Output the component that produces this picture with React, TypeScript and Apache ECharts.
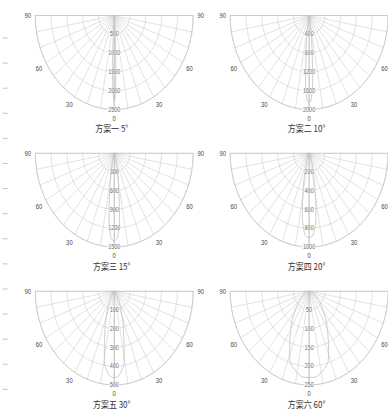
import React, { useEffect, useRef } from 'react';
import * as echarts from 'echarts';

const TITLES = ['方案一 5°', '方案二 10°', '方案三 15°', '方案四 20°', '方案五 30°', '方案六 60°'];

const RING_VALUES = [
  [500, 1000, 1500, 2000, 2500],
  [400, 800, 1200, 1600, 2000],
  [300, 600, 900, 1200, 1500],
  [200, 400, 600, 800, 1000],
  [100, 200, 300, 400, 500],
  [50, 100, 150, 200, 250],
];

const BEAM1_ANGLES = [0, 1, 2, 2.5, 3, 4, 5, 7, 10, 15, 20, 30, 45, 60, 90];
const BEAM1_VALUES = [2300, 2050, 1500, 1150, 820, 380, 170, 60, 25, 10, 5, 2, 0, 0, 0];
const BEAM2_ANGLES = [0, 2, 4, 5, 6, 8, 10, 12, 15, 20, 30, 45, 60, 90];
const BEAM2_VALUES = [1850, 1750, 1300, 925, 720, 400, 190, 100, 50, 20, 8, 3, 0, 0];
const BEAM3_ANGLES = [0, 3, 6, 7.5, 9, 12, 15, 20, 25, 30, 45, 60, 90];
const BEAM3_VALUES = [1400, 1320, 960, 700, 520, 260, 130, 50, 25, 12, 4, 0, 0];
const BEAM4_ANGLES = [0, 4, 8, 10, 12, 15, 20, 25, 30, 40, 60, 90];
const BEAM4_VALUES = [900, 850, 620, 450, 340, 200, 90, 40, 20, 8, 2, 0];
const BEAM5_ANGLES = [0, 5, 10, 15, 20, 25, 30, 40, 50, 60, 90];
const BEAM5_VALUES = [460, 440, 360, 230, 150, 90, 50, 20, 8, 3, 0];
const BEAM6_ANGLES = [0, 10, 20, 30, 40, 50, 60, 70, 80, 90];
const BEAM6_VALUES = [230, 220, 180, 115, 70, 40, 20, 8, 3, 0];

const BEAMS = [
  [BEAM1_ANGLES, BEAM1_VALUES],
  [BEAM2_ANGLES, BEAM2_VALUES],
  [BEAM3_ANGLES, BEAM3_VALUES],
  [BEAM4_ANGLES, BEAM4_VALUES],
  [BEAM5_ANGLES, BEAM5_VALUES],
  [BEAM6_ANGLES, BEAM6_VALUES],
];

const SX = 0.84;
const W = Math.round(388 / SX);
const H = 414;
const CX = [136, 368];
const CY = [15.5, 153, 291];
const R = 94;

function mirror(angles: number[], values: number[]) {
  const right = angles.map((a, i) => [values[i], -a]).reverse();
  const left = angles.slice(1).map((a, i) => [values[i + 1], a]);
  return [...right, ...left];
}

export default function App() {
  const ref = useRef<HTMLDivElement>(null);
  useEffect(() => {
    if (!ref.current) return;
    const chart = echarts.init(ref.current, undefined, { renderer: 'svg' });
    const polar: any[] = [];
    const angleAxis: any[] = [];
    const radiusAxis: any[] = [];
    const series: any[] = [];
    const graphic: any[] = [];
    TITLES.forEach((t, i) => {
      const cx = CX[i % 2];
      const cy = CY[Math.floor(i / 2)];
      const rings = RING_VALUES[i];
      const max = rings[rings.length - 1];
      polar.push({ center: [cx, cy], radius: [0, R] });
      angleAxis.push({
        polarIndex: i,
        type: 'value',
        min: -90,
        max: 90,
        interval: 10,
        startAngle: 0,
        endAngle: -180,
        clockwise: true,
        axisLine: { show: true, lineStyle: { color: '#c4c4c4', width: 0.8 } },
        axisTick: { show: false },
        axisLabel: {
          formatter: (v: number) => (v % 30 === 0 ? String(Math.abs(v)) : ''),
          fontSize: 7,
          color: '#444',
          margin: 5,
          fontFamily: 'Liberation Sans',
        },
        splitLine: { show: true, lineStyle: { color: '#d2d2d2', width: 0.7 } },
      });
      radiusAxis.push({
        polarIndex: i,
        type: 'value',
        min: 0,
        max,
        interval: rings[0],
        axisLine: { show: false },
        axisTick: { show: false },
        axisLabel: { show: false },
        splitLine: { show: true, lineStyle: { color: '#d2d2d2', width: 0.7 } },
      });
      series.push({
        type: 'line',
        coordinateSystem: 'polar',
        polarIndex: i,
        data: [[max, -90], [0, -90], [max, 90]],
        showSymbol: false,
        silent: true,
        lineStyle: { color: '#a8a8a8', width: 0.8 },
      });
      series.push({
        type: 'line',
        coordinateSystem: 'polar',
        polarIndex: i,
        data: [[0, 0], [max, 0]],
        showSymbol: false,
        silent: true,
        lineStyle: { color: '#b5b5b5', width: 0.8 },
      });
      const [ang, val] = BEAMS[i];
      series.push({
        type: 'line',
        coordinateSystem: 'polar',
        polarIndex: i,
        data: mirror(ang as number[], val as number[]),
        smooth: true,
        showSymbol: false,
        lineStyle: { color: '#c2c2c2', width: 0.9 },
      });
      series.push({
        type: 'scatter',
        coordinateSystem: 'polar',
        polarIndex: i,
        data: rings.map((v) => [v, 0]),
        symbolSize: 1,
        itemStyle: { color: 'rgba(0,0,0,0)' },
        label: {
          show: true,
          position: 'inside',
          formatter: (p: any) => String(p.value[0]),
          fontSize: 6.5,
          color: '#444',
          textBorderWidth: 0,
          textBorderColor: 'transparent',
          fontFamily: 'Liberation Sans',
          backgroundColor: 'rgba(255,255,255,0.85)',
          padding: [0, 1],
        },
      });
      graphic.push({
        type: 'text',
        x: cx - 3,
        y: cy + 113,
        style: {
          text: t,
          align: 'center',
          verticalAlign: 'middle',
          fontSize: 9.5,
          fill: '#333',
          fontFamily: 'Noto Sans CJK SC',
        },
      });
    });
    for (let k = 0; k < 15; k++) {
      const y = 38 + k * 25.1;
      graphic.push({
        type: 'line',
        shape: { x1: 3.5, y1: y, x2: 9, y2: y },
        style: { stroke: '#bbb', lineWidth: 1 },
      });
    }
    chart.setOption({
      animation: false,
      backgroundColor: '#fff',
      polar,
      angleAxis,
      radiusAxis,
      series,
      graphic,
    });
    return () => chart.dispose();
  }, []);
  return (
    <div
      ref={ref}
      style={{
        position: 'fixed',
        left: 0,
        top: 0,
        width: W,
        height: H,
        transform: `scaleX(${SX})`,
        transformOrigin: '0 0',
      }}
    />
  );
}
